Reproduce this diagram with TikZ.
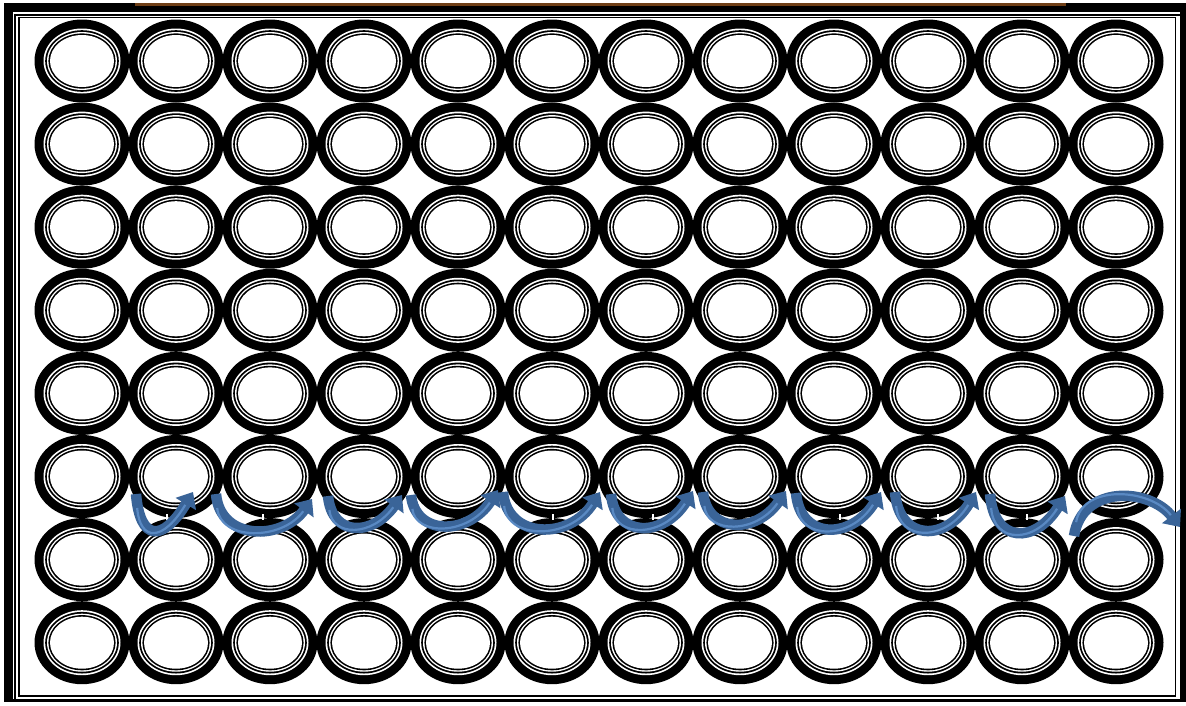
\documentclass[tikz,border=0pt]{standalone}
\usetikzlibrary{arrows.meta}
\definecolor{flowblue}{RGB}{58,100,152}
\definecolor{flowlight}{RGB}{100,150,210}
\definecolor{rimbrown}{RGB}{110,62,22}
\begin{document}
\begin{tikzpicture}[x=1pt,y=-1pt,
 flow/.style={draw=flowblue,line width=10.5pt,-{Triangle[width=23pt,length=14pt]}},
 shine/.style={draw=flowlight,line width=2.2pt,shorten <=14pt,shorten >=15pt,opacity=0.75},
 frameline/.style={draw=black,line width=1.6pt},
 well/.pic={
  \fill[black] (0,0) ellipse [x radius=47.5pt, y radius=41.5pt];
  \fill[white] (0,0) ellipse [x radius=38.5pt, y radius=32.5pt];
  \fill[black] (0,0) ellipse [x radius=36.8pt, y radius=30.8pt];
  \fill[white] (0,0) ellipse [x radius=35pt, y radius=29pt];
  \fill[black] (0,0) ellipse [x radius=33.6pt, y radius=27.6pt];
  \fill[white] (0,0) ellipse [x radius=32pt, y radius=26pt];
 },
]
\useasboundingbox (0,0) rectangle (1186,705);
\fill[white] (0,0) rectangle (1186,705);
% frame
\fill[black] (4,3) rectangle (1186,702);
\fill[white] (13,12) rectangle (1180,699);
\fill[rimbrown] (135,2.5) rectangle (1066,5.5);
\draw[frameline] (15,14.8) rectangle (1181,699.5);
\draw[frameline,line width=1.3pt] (19,17.8) rectangle (1175.5,696);
% wells
\foreach \c in {0,...,11}
  \foreach \r in {0,...,7}
    \pic at ({82+94*\c},{61+83.1*\r}) {well};
% small white ticks
\foreach \x in {167,263,553,653,840,938,1027}
  \fill[white] (\x-1,514) rectangle (\x+1,520);
% arrows
\foreach \i/\tx/\ty/\hx/\hy/\cc in {1/136/494/193/492/542,2/216/494/312/499/541,3/328/496/402/495/537,4/411/495/498/490/536,5/503/492/600/492/540,6/611/494/693/491/538,7/703/492/786/491/534,8/796/493/881/492/540,9/895/492/976/492/542,10/990/494/1065/496/544}{
  \coordinate (t\i) at (\tx,\ty);
  \coordinate (h\i) at (\hx,\hy);
  \draw[flow] (t\i) .. controls (\tx+4,\cc) and (\hx-30,\cc) .. (h\i);
  \draw[shine] (t\i) .. controls (\tx+4,\cc) and (\hx-30,\cc) .. (h\i);
}
\coordinate (t11) at (1074,536);
\coordinate (h11) at (1180,527);
\draw[flow] (t11) .. controls (1082,484) and (1150,488) .. (h11);
\draw[shine] (t11) .. controls (1082,484) and (1150,488) .. (h11);
\end{tikzpicture}
\end{document}
